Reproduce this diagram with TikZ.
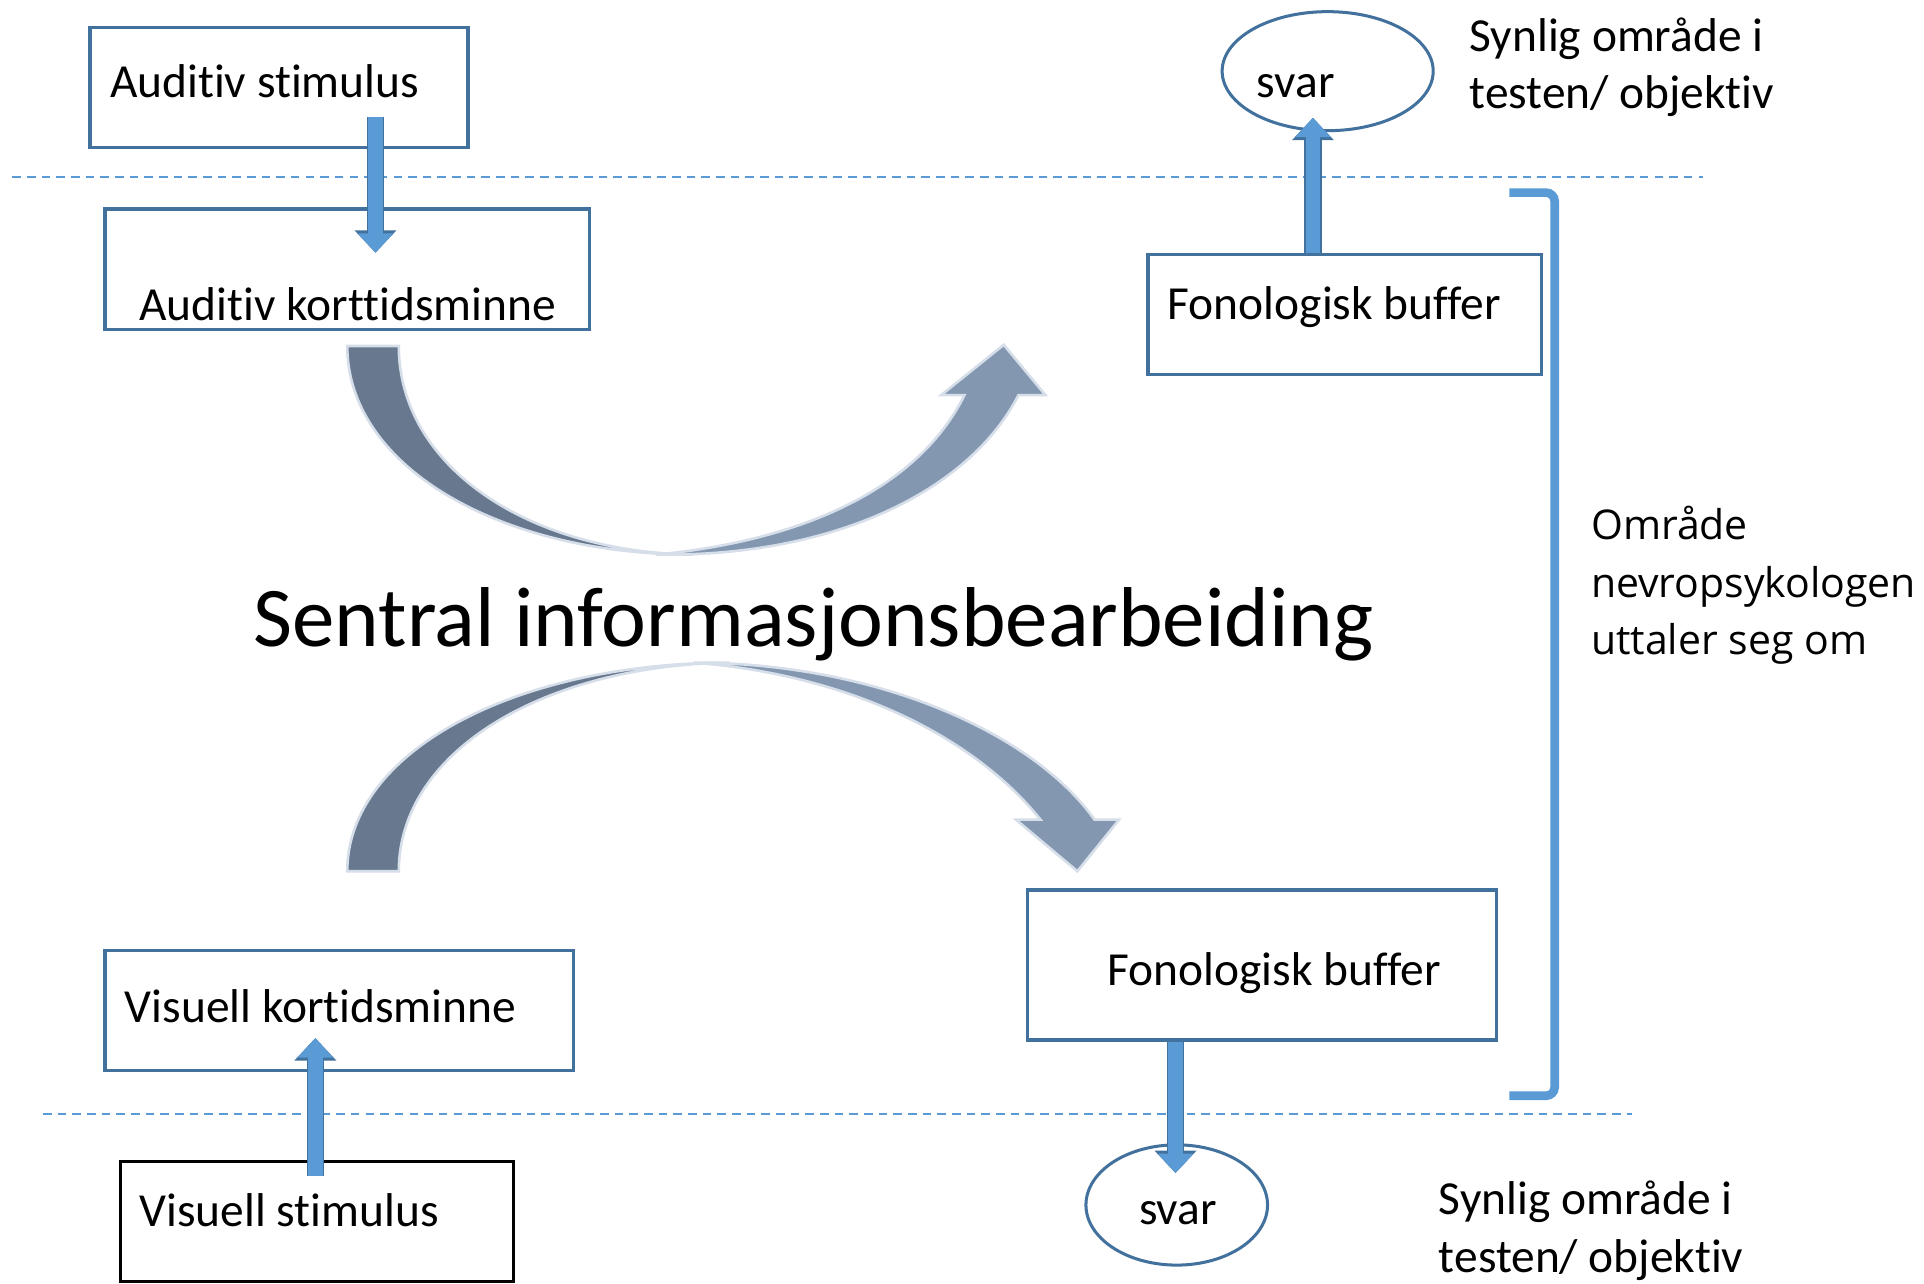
\documentclass[tikz,border=0pt]{standalone}
\usepackage{fontspec}
\setmainfont[Ligatures=NoCommon]{Carlito}
\newfontfamily\osfont{Open Sans}
\usetikzlibrary{arrows.meta,shapes.geometric}
\definecolor{boxline}{RGB}{65,113,156}
\definecolor{arrowfill}{RGB}{91,155,213}
\definecolor{darkarc}{RGB}{104,121,143}
\definecolor{lightarc}{RGB}{132,151,177}
\definecolor{arcedge}{RGB}{214,222,234}
\begin{document}
\begin{tikzpicture}[box/.style={draw=boxline,line width=0.8pt,anchor=north west,inner sep=0pt},
    txt/.style={anchor=west,inner sep=0pt,font=\fontsize{11}{13.3}\selectfont},
    svarbox/.style={draw=boxline,ellipse,line width=0.7pt,inner sep=0pt},
    blockarrow/.style={arrowfill,line width=3.4pt,-{Triangle[width=8pt,length=4.5pt]},
        preaction={draw=boxline,line width=4.1pt,-{Triangle[width=9.4pt,length=5.2pt]}}},
    sep/.style={arrowfill,line width=0.5pt,dash pattern=on 2pt off 1.4pt},
    arc/.style={draw=arcedge,line width=0.6pt}]
    \fill[white](0,0)rectangle(15.68,-10.45);
    \draw[sep](0.10,-1.44)--(13.88,-1.44);
    \draw[sep](0.35,-9.08)--(13.30,-9.08);
    \node[box,minimum width=3.08cm,minimum height=0.98cm](astim)at(0.72,-0.21){};
    \node[txt](astimt)at(0.89,-0.66){Auditiv stimulus};
    \node[box,minimum width=3.95cm,minimum height=0.98cm](akort)at(0.84,-1.69){};
    \node[txt](akortt)at(1.13,-2.48){Auditiv korttidsminne};
    \node[box,minimum width=3.21cm,minimum height=0.98cm](fbuf1)at(9.34,-2.06){};
    \node[txt](fbuf1t)at(9.51,-2.50){Fonologisk buffer};
    \node[box,minimum width=3.82cm,minimum height=1.22cm](fbuf2)at(8.36,-7.24){};
    \node[txt](fbuf2t)at(9.02,-7.93){Fonologisk buffer};
    \node[box,minimum width=3.82cm,minimum height=0.98cm](vkort)at(0.84,-7.73){};
    \node[txt](vkortt)at(1.01,-8.20){Visuell kortidsminne};
    \node[box,draw=black,minimum width=3.20cm,minimum height=0.98cm](vstim)at(0.97,-9.45){};
    \node[txt](vstimt)at(1.13,-9.86){Visuell stimulus};
    \node[svarbox,minimum width=1.72cm,minimum height=0.97cm](svar1)at(10.82,-0.58){};
    \node[txt,anchor=center](svar1t)at(10.56,-0.70){svar};
    \node[svarbox,minimum width=1.48cm,minimum height=0.98cm](svar2)at(9.59,-9.82){};
    \node[txt,anchor=center](svar2t)at(9.60,-9.89){svar};
    \node[txt,align=left](syn1)at(11.97,-0.55){Synlig område i\\testen/ objektiv};
    \node[txt,align=left](syn2)at(11.72,-10.03){Synlig område i\\testen/ objektiv};
    \node[txt,align=left,font=\osfont\fontsize{9.5}{13.4}\selectfont](omr)at(12.96,-4.77){Område\\nevropsykologen\\uttaler seg om};
    \node[inner sep=0pt,font=\fontsize{19.7}{24}\selectfont](sentral)at(6.63,-5.09){Sentral informasjonsbearbeiding};
    \draw[arrowfill,line width=2pt,rounded corners=2pt](12.30,-1.57)--(12.67,-1.57)--(12.67,-8.93)--(12.30,-8.93);
    \coordinate(a1s)at(3.06,-0.95);
    \coordinate(a1e)at(3.06,-2.06);
    \coordinate(a2e)at(10.70,-0.96);
    \coordinate(a3e)at(9.58,-9.56);
    \coordinate(a4s)at(2.57,-9.58);
    \coordinate(a4e)at(2.57,-8.46);
    \draw[blockarrow](a1s)--(a1e);
    \draw[blockarrow](fbuf1.north-|a2e)--(a2e);
    \draw[blockarrow](fbuf2.south-|a3e)--(a3e);
    \draw[blockarrow](a4s)--(a4e);
    \fill[darkarc,arc](2.83,-2.82)..controls(2.83,-3.80)and(4.07,-4.52)..(5.65,-4.52)
        ..controls(4.30,-4.50)and(3.25,-3.80)..(3.25,-2.82)--cycle;
    \fill[lightarc,arc](5.35,-4.52)..controls(6.80,-4.54)and(7.90,-4.00)..(8.30,-3.22)--(8.52,-3.22)--(8.18,-2.81)
        --(7.67,-3.22)--(7.86,-3.22)..controls(7.50,-3.95)and(6.60,-4.40)..(5.35,-4.52)--cycle;
    \fill[darkarc,arc](2.83,-7.10)..controls(2.83,-6.12)and(4.21,-5.40)..(5.95,-5.40)
        ..controls(4.44,-5.42)and(3.25,-6.12)..(3.25,-7.10)--cycle;
    \fill[lightarc,arc](5.65,-5.40)..controls(7.10,-5.40)and(8.40,-5.95)..(8.92,-6.68)--(9.12,-6.68)--(8.78,-7.10)
        --(8.28,-6.68)--(8.48,-6.68)..controls(7.95,-6.02)and(6.95,-5.50)..(5.65,-5.40)--cycle;
\end{tikzpicture}
\end{document}
